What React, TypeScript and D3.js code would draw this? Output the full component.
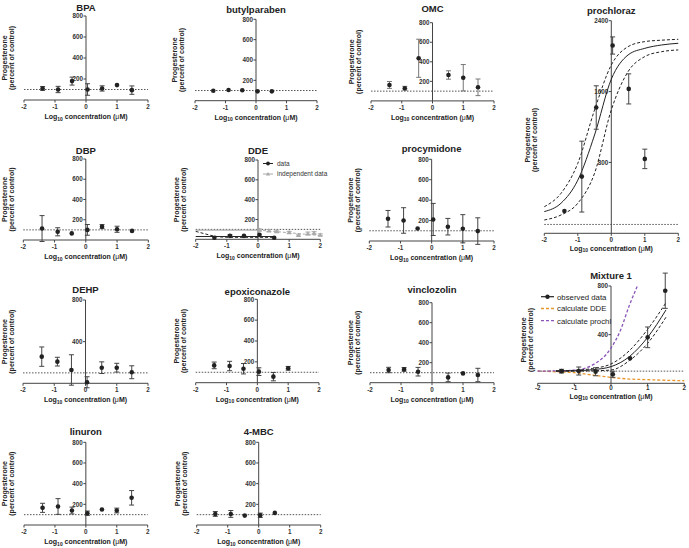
import React from 'react';
import * as d3 from 'd3';

const FONT = "'Liberation Sans', Arial, Helvetica, sans-serif";
const X_TICKS = [-2, -1, 0, 1, 2];
const LOGC = [-1.4, -0.9, -0.45, 0.05, 0.52, 1.0, 1.48];

// ---- data (log10 µM, progesterone % of control, error) ----
const BPA_Y = [110, 100, 180, 100, 110, 142, 94];
const BPA_E = [18, 30, 38, 55, 25, 0, 40];
const BUTYL_X = [-1.4, -0.9, -0.45, 0.05, 0.52];
const BUTYL_Y = [98, 105, 102, 92, 92];
const BUTYL_E = [0, 0, 0, 0, 0];
const OMC_X = [-1.4, -0.9, -0.45, 0.52, 1.0, 1.48];
const OMC_Y = [163, 129, 436, 265, 237, 139];
const OMC_E = [35, 20, 195, 43, 135, 85];
const DBP_Y = [113, 81, 65, 100, 132, 106, 90];
const DBP_E = [128, 40, 0, 53, 20, 30, 0];
const DDE_X = [-1.4, -0.9, -0.45, 0.05, 0.52];
const DDE_Y = [15, 35, 35, 45, 15];
const DDE_E = [0, 10, 0, 0, 0];
const DDE_IND_X = [0.05, 0.35, 0.6, 1.0, 1.3, 1.6, 1.8, 2.0];
const DDE_IND_Y = [95, 88, 80, 70, 42, 58, 65, 45];
const DDE_IND_E = [10, 10, 12, 10, 10, 15, 12, 10];
const DDE_FIT_X = [-2, -1.7, -1.4, -1.1, -0.8, 0.52];
const DDE_FIT_Y = [80, 55, 32, 22, 20, 20];
const DDE_FLAT_X = [-2, 0.52];
const DDE_FLAT_Y = [28, 28];
const DDE_IFLAT_X = [-2, 0];
const DDE_IFLAT_Y = [92, 92];
const DDE_IFIT_X = [0, 0.5, 1.0, 1.5, 2.0];
const DDE_IFIT_Y = [92, 80, 66, 52, 38];
const PROC_Y = [218, 201, 123, 211, 140, 120, 97];
const PROC_E = [81, 125, 0, 157, 81, 138, 130];
const DEHP_Y = [256, 208, 128, 10, 150, 150, 106];
const DEHP_E = [93, 42, 146, 53, 56, 42, 62];
const EPOX_X = [-1.4, -0.9, -0.45, 0.05, 0.52, 1.0];
const EPOX_Y = [166, 160, 134, 106, 58, 138];
const EPOX_E = [32, 45, 50, 37, 40, 18];
const VINC_X = [-1.4, -0.9, -0.45, 0.52, 1.0, 1.48];
const VINC_Y = [127, 133, 110, 53, 93, 77];
const VINC_E = [27, 18, 43, 43, 0, 67];
const LIN_Y = [166, 179, 140, 114, 150, 140, 263];
const LIN_E = [44, 76, 33, 21, 0, 23, 70];
const MBC_X = [-1.4, -0.9, -0.45, 0.05, 0.52];
const MBC_Y = [107, 107, 91, 94, 117];
const MBC_E = [23, 33, 0, 21, 0];
const PCZ_X = [-1.4, -0.88, -0.45, 0.04, 0.52, 1.0];
const PCZ_Y = [252, 640, 1420, 2120, 1630, 840];
const PCZ_E = [0, 400, 245, 97, 170, 110];
const PCZ_CX = [-2, -1.5, -1, -0.5, 0, 0.5, 1, 1.5, 2];
const PCZ_FIT = [245, 340, 600, 1110, 1740, 2013, 2088, 2126, 2145];
const PCZ_UP = [300, 452, 790, 1393, 1900, 2107, 2164, 2180, 2190];
const PCZ_LO = [150, 207, 339, 678, 1393, 1825, 1995, 2050, 2070];
const MIX_X = [-1.35, -0.88, -0.42, 0.05, 0.52, 1.0, 1.48];
const MIX_Y = [100, 101, 95, 74, 205, 378, 761];
const MIX_E = [15, 33, 33, 25, 0, 85, 145];
const MIX_CX = [-1.5, -1, -0.5, 0, 0.5, 1, 1.5];
const MIX_FIT = [101, 103, 112, 137, 219, 378, 603];
const MIX_UP = [102, 107, 122, 159, 268, 444, 663];
const MIX_LO = [100, 100, 103, 109, 186, 329, 543];
const DDE_CALC_X = [-2, -1.5, -1, -0.5, 0, 0.5, 1, 1.5, 2];
const DDE_CALC_Y = [100, 95, 87, 68, 49, 35, 30, 25, 21];
const PCZ_CALC_X = [-2, -1.5, -1, -0.5, 0, 0.25, 0.5, 0.72];
const PCZ_CALC_Y = [100, 102, 108, 151, 290, 430, 640, 800];

type Curve = { x: number[]; y: number[]; color: string; dash?: string; width?: number };
type Ser = { x: number[]; y: number[]; e: number[]; color?: string; marker?: string; ebColor?: string };
type Panel = {
  title: string; left: number; right: number; bottom: number; top: number; max: number;
  ticks: number[]; titleY: number; ser: Ser[]; curves?: Curve[]; ytOff?: number; ytY?: number;
  tickLblOff?: number; xTitleOff?: number;
};

const T4 = [200, 400, 600, 800];

const PANELS: Panel[] = [
  { title: 'BPA', left: 24, right: 148, bottom: 100, top: 16, max: 800, ticks: T4, titleY: 10.5,
    ser: [{ x: LOGC, y: BPA_Y, e: BPA_E }] },
  { title: 'butylparaben', left: 195, right: 317, bottom: 100.7, top: 19.3, max: 800, ticks: T4, titleY: 12.5,
    ser: [{ x: BUTYL_X, y: BUTYL_Y, e: BUTYL_E }] },
  { title: 'OMC', left: 371, right: 494, bottom: 100.9, top: 22.7, max: 800, ticks: T4, titleY: 12,
    ser: [{ x: OMC_X, y: OMC_Y, e: OMC_E, ebColor: '#777' }] },
  { title: 'prochloraz', left: 544.3, right: 678.3, bottom: 233.3, top: 20.7, max: 2400, ticks: [800, 1600, 2400], titleY: 13.5,
    ser: [{ x: PCZ_X, y: PCZ_Y, e: PCZ_E }], ytOff: 84, ytY: 140, tickLblOff: 8.5, xTitleOff: 17.5,
    curves: [
      { x: PCZ_CX, y: PCZ_FIT, color: '#222' },
      { x: PCZ_CX, y: PCZ_UP, color: '#222', dash: '3,2' },
      { x: PCZ_CX, y: PCZ_LO, color: '#222', dash: '3,2' },
    ] },
  { title: 'DBP', left: 23.3, right: 148.3, bottom: 240, top: 159, max: 800, ticks: T4, titleY: 154,
    ser: [{ x: LOGC, y: DBP_Y, e: DBP_E }] },
  { title: 'DDE', left: 195.7, right: 320.3, bottom: 239.3, top: 160, max: 800, ticks: T4, titleY: 154,
    ser: [
      { x: DDE_IND_X, y: DDE_IND_Y, e: DDE_IND_E, color: '#aaa', marker: 'tri' },
      { x: DDE_X, y: DDE_Y, e: DDE_E },
    ],
    curves: [
      { x: DDE_IFLAT_X, y: DDE_IFLAT_Y, color: '#aaa' },
      { x: DDE_IFIT_X, y: DDE_IFIT_Y, color: '#aaa', dash: '3,2' },
      { x: DDE_FIT_X, y: DDE_FIT_Y, color: '#222', dash: '3,2' },
      { x: DDE_FLAT_X, y: DDE_FLAT_Y, color: '#222' },
    ] },
  { title: 'procymidone', left: 369.3, right: 494, bottom: 241, top: 159.3, max: 800, ticks: T4, titleY: 152,
    ser: [{ x: LOGC, y: PROC_Y, e: PROC_E }] },
  { title: 'DEHP', left: 23, right: 148, bottom: 383.3, top: 300, max: 800, ticks: [400, 800], titleY: 293,
    ser: [{ x: LOGC, y: DEHP_Y, e: DEHP_E }] },
  { title: 'epoxiconazole', left: 195.7, right: 319, bottom: 382.7, top: 299.3, max: 800, ticks: T4, titleY: 294.5,
    ser: [{ x: EPOX_X, y: EPOX_Y, e: EPOX_E }] },
  { title: 'vinclozolin', left: 370, right: 494, bottom: 382.7, top: 302.7, max: 800, ticks: T4, titleY: 293,
    ser: [{ x: VINC_X, y: VINC_Y, e: VINC_E }] },
  { title: 'Mixture 1', left: 537.7, right: 684.3, bottom: 383.3, top: 286, max: 800, ticks: [400, 800], titleY: 278.5,
    ser: [{ x: MIX_X, y: MIX_Y, e: MIX_E }], ytOff: 87, ytY: 340, tickLblOff: 7, xTitleOff: 15.5,
    curves: [
      { x: DDE_CALC_X, y: DDE_CALC_Y, color: '#e8962e', dash: '3,2', width: 1.3 },
      { x: PCZ_CALC_X, y: PCZ_CALC_Y, color: '#8a55b8', dash: '3,2', width: 1.3 },
      { x: MIX_CX, y: MIX_FIT, color: '#222' },
      { x: MIX_CX, y: MIX_UP, color: '#222', dash: '3,2' },
      { x: MIX_CX, y: MIX_LO, color: '#222', dash: '3,2' },
    ] },
  { title: 'linuron', left: 24, right: 147.7, bottom: 525, top: 442.3, max: 800, ticks: T4, titleY: 435,
    ser: [{ x: LOGC, y: LIN_Y, e: LIN_E }] },
  { title: '4-MBC', left: 196.7, right: 320.7, bottom: 525, top: 442.3, max: 800, ticks: T4, titleY: 435,
    ser: [{ x: MBC_X, y: MBC_Y, e: MBC_E }] },
];

function PanelView({ p }: { p: Panel }) {
  const x = d3.scaleLinear().domain([-2, 2]).range([p.left, p.right]);
  const y = d3.scaleLinear().domain([0, p.max]).range([p.bottom, p.top]);
  const ax = x(0);
  const ytOff = p.ytOff ?? 81;
  const ytY = p.ytY ?? (p.bottom + p.top) / 2;
  const tlo = p.tickLblOff ?? 9;
  const xto = p.xTitleOff ?? 19;
  const line = d3.line<[number, number]>().x(d => x(d[0])).y(d => y(d[1])).curve(d3.curveMonotoneX);
  const ink = '#222';
  return (
    <g>
      <text x={ax} y={p.titleY} textAnchor="middle" fontWeight="bold" fontSize={9.5} fill={ink}>{p.title}</text>
      <line x1={x(-2)} x2={x(2)} y1={y(100)} y2={y(100)} stroke="#555" strokeWidth={1} strokeDasharray="1.5,1.5" />
      <line x1={ax} x2={ax} y1={p.bottom} y2={p.top} stroke="#444" strokeWidth={1} />
      <line x1={p.left} x2={p.right} y1={p.bottom} y2={p.bottom} stroke="#444" strokeWidth={1} />
      {p.ticks.map(t => (
        <g key={'y' + t}>
          <line x1={ax - 2.5} x2={ax} y1={y(t)} y2={y(t)} stroke="#444" />
          <text x={ax - 3} y={y(t) + 2.2} textAnchor="end" fontSize={6.3} fontWeight="bold" fill="#333">{t}</text>
        </g>
      ))}
      {X_TICKS.map(t => (
        <g key={'x' + t}>
          <line x1={x(t)} x2={x(t)} y1={p.bottom} y2={p.bottom + 2.5} stroke="#444" />
          <text x={x(t)} y={p.bottom + tlo} textAnchor="middle" fontSize={6.3} fontWeight="bold" fill="#333">{t}</text>
        </g>
      ))}
      <text x={ax} y={p.bottom + xto} textAnchor="middle" fontSize={7} fontWeight="bold" fill={ink}>
        Log<tspan fontSize={5} dy={1.5}>10</tspan><tspan dy={-1.5}> concentration (</tspan><tspan fontWeight="normal">μ</tspan>M)
      </text>
      <g transform={`translate(${ax - ytOff},${ytY}) rotate(-90)`}>
        <text x={0} y={2.4} textAnchor="middle" fontSize={7} fontWeight="bold" fill={ink}>Progesterone</text>
        <text x={0} y={9.4} textAnchor="middle" fontSize={7} fontWeight="bold" fill={ink}>(percent of control)</text>
      </g>
      {(p.curves || []).map((c, i) => (
        <path key={'c' + i} d={line(c.x.map((v, j) => [v, c.y[j]] as [number, number])) || ''}
          fill="none" stroke={c.color} strokeWidth={c.width ?? 1} strokeDasharray={c.dash} />
      ))}
      {p.ser.map((s, si) => (
        <g key={'s' + si}>
          {s.x.map((v, i) => {
            const cx = x(v), cy = y(s.y[i]);
            const col = s.color || ink;
            const e = s.e[i];
            return (
              <g key={i}>
                {e > 0 && (
                  <g stroke={s.ebColor || s.color || '#444'} strokeWidth={1}>
                    <line x1={cx} x2={cx} y1={y(s.y[i] + e)} y2={y(s.y[i] - e)} />
                    <line x1={cx - 2.5} x2={cx + 2.5} y1={y(s.y[i] + e)} y2={y(s.y[i] + e)} />
                    <line x1={cx - 2.5} x2={cx + 2.5} y1={y(s.y[i] - e)} y2={y(s.y[i] - e)} />
                  </g>
                )}
                {s.marker === 'tri'
                  ? <path d={`M${cx},${cy - 2.4}L${cx + 2.4},${cy + 1.8}L${cx - 2.4},${cy + 1.8}Z`} fill={col} />
                  : <circle cx={cx} cy={cy} r={2.3} fill={col} />}
              </g>
            );
          })}
        </g>
      ))}
    </g>
  );
}

export default function App() {
  return (
    <svg width={689} height={548} style={{ display: 'block', position: 'absolute', left: 0, top: 0 }}
      fontFamily={FONT}>
      <rect width={689} height={548} fill="#fff" />
      {PANELS.map(p => <PanelView key={p.title} p={p} />)}
      <g fontSize={6.5} fill="#333">
        <line x1={263} x2={273} y1={163.5} y2={163.5} stroke="#222" />
        <circle cx={268} cy={163.5} r={1.9} fill="#222" />
        <text x={277} y={165.8}>data</text>
        <line x1={263} x2={273} y1={174} y2={174} stroke="#aaa" />
        <path d="M268,172L270.2,175.6L265.8,175.6Z" fill="#aaa" />
        <text x={277} y={176.3}>independent data</text>
      </g>
      <g fontSize={7.8} fill="#222">
        <line x1={541} x2={554} y1={296.7} y2={296.7} stroke="#222" strokeWidth={1.2} />
        <circle cx={547.5} cy={296.7} r={2.2} fill="#222" />
        <text x={557} y={299.5}>observed data</text>
        <line x1={541} x2={554} y1={308.5} y2={308.5} stroke="#e8962e" strokeWidth={1.3} strokeDasharray="3,2" />
        <text x={557} y={311.3}>calculate DDE</text>
        <line x1={541} x2={554} y1={320.7} y2={320.7} stroke="#8a55b8" strokeWidth={1.3} strokeDasharray="3,2" />
        <text x={557} y={323.5}>calculate prochl</text>
      </g>
    </svg>
  );
}
